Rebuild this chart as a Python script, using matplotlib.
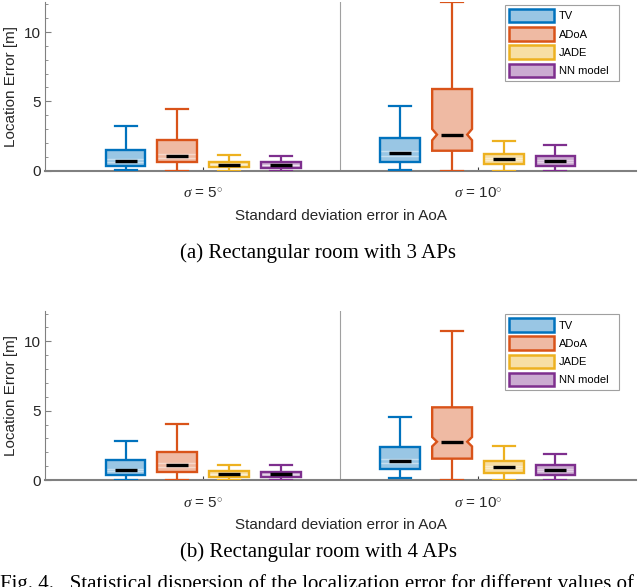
import numpy as np
import matplotlib
matplotlib.use("Agg")
import matplotlib.pyplot as plt
from matplotlib.patches import Polygon, Patch
from matplotlib.ticker import MultipleLocator

# ---------------- data ----------------
methods = ["TV", "ADoA", "JADE", "NN model"]
groups = [r"$\sigma$ = 5$^{\circ}$", r"$\sigma$ = 10$^{\circ}$"]
colors = ["#0072BD", "#D95319", "#EDB120", "#7E2F8E"]
captions = ["(a) Rectangular room with 3 APs", "(b) Rectangular room with 4 APs"]
fig_caption = "Fig. 4.   Statistical dispersion of the localization error for different values of"

# each: [group][method] -> (whislo, q1, med, q3, whishi)
# (a) 3 APs
a_sigma5 = [(0.03, 0.36, 0.72, 1.51, 3.20),
            (0.00, 0.60, 1.08, 2.21, 4.47),
            (0.00, 0.29, 0.43, 0.65, 1.11),
            (0.00, 0.22, 0.41, 0.60, 1.06)]
a_sigma10 = [(0.07, 0.63, 1.25, 2.38, 4.66),
             (0.00, 1.44, 2.60, 5.89, 12.20),
             (0.00, 0.46, 0.82, 1.20, 2.16),
             (0.00, 0.36, 0.72, 1.08, 1.85)]
# (b) 4 APs
b_sigma5 = [(0.00, 0.38, 0.72, 1.42, 2.79),
            (0.00, 0.55, 1.06, 2.02, 4.04),
            (0.00, 0.22, 0.43, 0.62, 1.06),
            (0.00, 0.22, 0.41, 0.60, 1.06)]
b_sigma10 = [(0.12, 0.82, 1.37, 2.40, 4.57),
             (0.00, 1.54, 2.76, 5.24, 10.72),
             (0.00, 0.53, 0.91, 1.37, 2.45),
             (0.00, 0.38, 0.72, 1.10, 1.85)]

panels = [[a_sigma5, a_sigma10], [b_sigma5, b_sigma10]]

# notch half-height factor (1.58/sqrt(n)) * IQR
NOTCH = 1.58 / np.sqrt(300)

# ---------------- style ----------------
plt.rcParams["font.family"] = ["Liberation Sans", "DejaVu Sans"]
plt.rcParams["mathtext.fontset"] = "custom"
plt.rcParams["mathtext.rm"] = "Liberation Sans"
plt.rcParams["mathtext.it"] = "Liberation Serif:italic"

fig = plt.figure(figsize=(6.4, 5.87), dpi=100)
W, H = 640.0, 587.0
ax_rects = [
    (45 / W, (H - 170.7) / H, 591 / W, 169.2 / H),
    (45 / W, (H - 480.0) / H, 591 / W, 169.2 / H),
]
label_y = [(193, 216, 253), (503, 525, 552)]

grid_gray = "#808080"
text_col = "#262626"
box_w = 0.145
cap_w = 0.08
med_w = 0.08
spacing = 0.188
offsets = np.array([-1.5, -0.5, 0.5, 1.5]) * spacing
group_pos = [1, 2]
serif = ["Liberation Serif", "DejaVu Serif"]

for p, rect in enumerate(ax_rects):
    ax = fig.add_axes(rect)
    ax.set_xlim(0.425, 2.575)
    ax.set_ylim(0, 12.2)
    for gi, gp in enumerate(group_pos):
        for mi in range(4):
            wl, q1, med, q3, wh = panels[p][gi][mi]
            x = gp + offsets[mi]
            c = colors[mi]
            iqr = q3 - q1
            cilo = med - NOTCH * iqr
            cihi = med + NOTCH * iqr
            L, R = x - box_w / 2, x + box_w / 2
            if iqr > 3 and cilo > q1 and cihi < q3:
                nd = 0.12 * box_w
                verts = [(L, q1), (R, q1), (R, cilo), (R - nd, med), (R, cihi),
                         (R, q3), (L, q3), (L, cihi), (L + nd, med), (L, cilo)]
            else:
                verts = [(L, q1), (R, q1), (R, q3), (L, q3)]
                # faint notch band lines inside the box
                for yy in (max(cilo, q1), min(cihi, q3)):
                    ax.plot([L, R], [yy, yy], color="white", alpha=0.45, lw=1.0,
                            zorder=3.5)
            ax.add_patch(Polygon(verts, closed=True, facecolor=c, alpha=0.4,
                                 edgecolor="none", zorder=3))
            ax.add_patch(Polygon(verts, closed=True, facecolor="none",
                                 edgecolor=c, linewidth=1.7, zorder=4,
                                 joinstyle="miter"))
            # whiskers
            ax.plot([x, x], [q3, wh], color=c, lw=1.6, zorder=3, solid_capstyle="butt")
            ax.plot([x, x], [wl, q1], color=c, lw=1.6, zorder=3, solid_capstyle="butt")
            ax.plot([x - cap_w / 2, x + cap_w / 2], [wh, wh], color=c, lw=1.6, zorder=3)
            ax.plot([x - cap_w / 2, x + cap_w / 2], [wl, wl], color=c, lw=1.6, zorder=3)
            # median
            ax.plot([x - med_w / 2, x + med_w / 2], [med, med], color="black",
                    lw=2.4, zorder=5, solid_capstyle="butt")

    # divider
    ax.axvline(1.5, color="#A0A0A0", lw=0.8, zorder=1)

    for s in ["top", "right"]:
        ax.spines[s].set_visible(False)
    ax.spines["left"].set_color(grid_gray)
    ax.spines["left"].set_linewidth(0.8)
    ax.spines["bottom"].set_color(grid_gray)
    ax.spines["bottom"].set_linewidth(1.5)
    ax.spines["bottom"].set_zorder(2)

    ax.yaxis.set_major_locator(MultipleLocator(5))
    ax.yaxis.set_minor_locator(MultipleLocator(1))
    ax.tick_params(axis="y", which="major", direction="in", length=4, width=0.8,
                   colors=grid_gray, labelcolor=text_col, labelsize=11, pad=3)
    ax.tick_params(axis="y", which="minor", direction="in", length=2, width=0.6,
                   colors=grid_gray)
    ax.set_xticks(group_pos)
    ax.set_xticklabels([])
    ax.tick_params(axis="x", direction="in", length=3, width=0.8, colors="#404040")
    ax.set_ylabel("Location Error [m]", fontsize=11, color=text_col, labelpad=4)

    # tick labels, x label, caption (figure pixel coordinates)
    ty, xy, cy = label_y[p]
    for gi, gp in enumerate(group_pos):
        xf = (45 + (gp - 0.425) * 275) / W
        fig.text(xf, 1 - ty / H, groups[gi], ha="center", va="center",
                 fontsize=11, color=text_col)
    fig.text((45 + 591 / 2) / W, 1 - xy / H, "Standard deviation error in AoA",
             ha="center", va="center", fontsize=11, color=text_col)
    fig.text(0.497, 1 - cy / H, captions[p], ha="center", va="center",
             fontsize=15, family=serif, color="black")

    handles = [Patch(facecolor=matplotlib.colors.to_rgba(c, 0.4), edgecolor=c,
                     linewidth=1.8, label=m) for c, m in zip(colors, methods)]
    leg = ax.legend(handles=handles, loc="upper left",
                    bbox_to_anchor=(0.778, 0.3, 0.193, 0.679), mode="expand",
                    borderaxespad=0, fontsize=8, handlelength=4.1, handleheight=1.5,
                    labelspacing=0.42, handletextpad=0.4, borderpad=0.35,
                    fancybox=False, framealpha=1, edgecolor="#A0A0A0")
    leg.get_frame().set_linewidth(0.8)

fig.text(0.0, 1 - 584.5 / H, fig_caption, ha="left", va="center",
         fontsize=15, family=serif, color="black")

fig.savefig("out.png", dpi=100)
